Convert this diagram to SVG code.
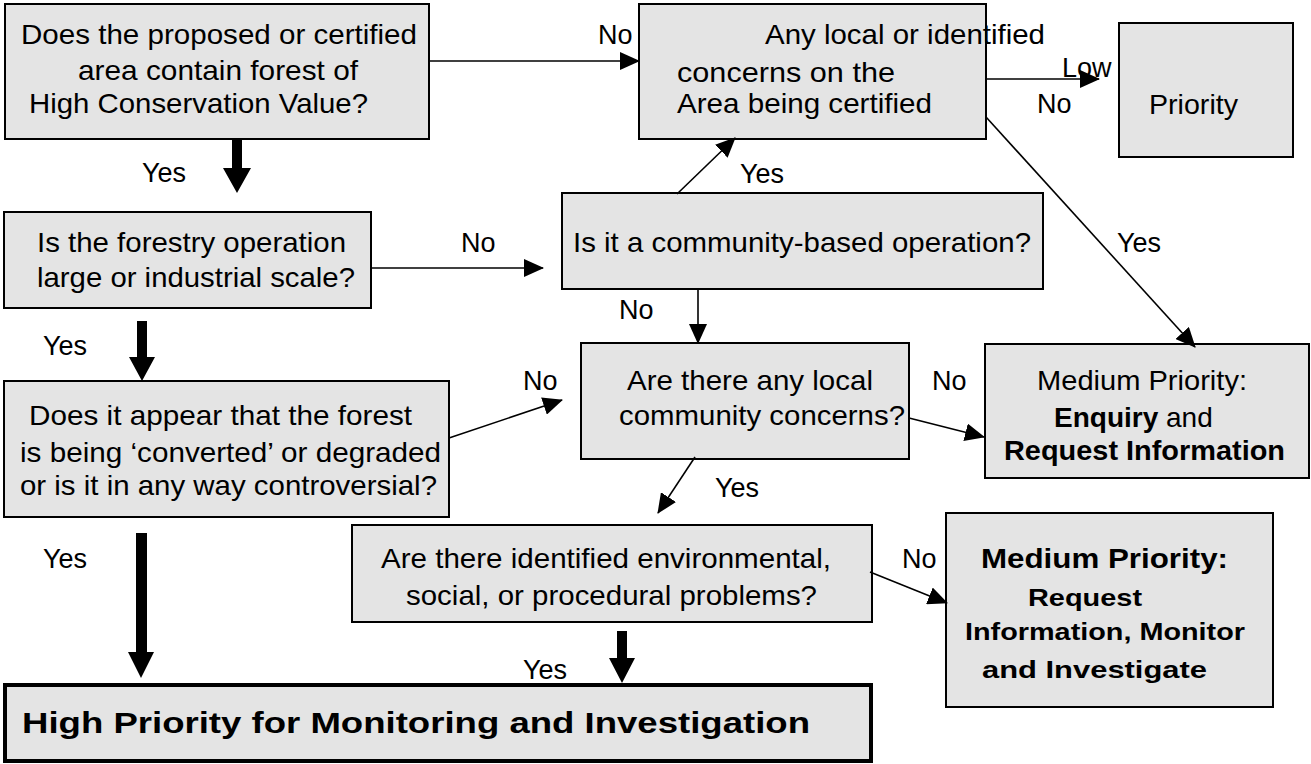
<svg xmlns="http://www.w3.org/2000/svg" width="1311" height="764" viewBox="0 0 1311 764">
<defs>
<style>
.box{fill:#e4e4e4;stroke:#000;stroke-width:2}
.hbox{fill:#e4e4e4;stroke:#000;stroke-width:4}
text{font-family:"Liberation Sans",Arial,Helvetica,sans-serif;font-size:28px;fill:#000}
.lbl{font-size:27px}
.b{font-weight:bold}
.s24{font-size:24px}
.ln{stroke:#000;stroke-width:1.6;fill:none}
.thick{fill:#000;stroke:none}
</style>
<marker id="ah" markerWidth="20" markerHeight="18" refX="19" refY="9" orient="auto" markerUnits="userSpaceOnUse">
<path d="M0,0 L20,9 L0,18 z" fill="#000"/>
</marker>
</defs>
<rect width="1311" height="764" fill="#fff"/>

<g id="n1">
<rect class="box" x="5" y="4" width="424" height="135"/>
<text x="21" y="44" textLength="396" lengthAdjust="spacingAndGlyphs">Does the proposed or certified</text>
<text x="78" y="80" textLength="280" lengthAdjust="spacingAndGlyphs">area contain forest of</text>
<text x="29" y="113" textLength="339" lengthAdjust="spacingAndGlyphs">High Conservation Value?</text>
</g>

<g id="n2">
<rect class="box" x="639" y="4" width="347" height="135"/>
<text x="765" y="44" textLength="280" lengthAdjust="spacingAndGlyphs">Any local or identified</text>
<text x="677" y="82" textLength="218" lengthAdjust="spacingAndGlyphs">concerns on the</text>
<text x="677" y="113" textLength="255" lengthAdjust="spacingAndGlyphs">Area being certified</text>
</g>

<g id="n3">
<rect class="box" x="1119" y="23" width="174" height="134"/>
<text x="1149" y="114" textLength="89" lengthAdjust="spacingAndGlyphs">Priority</text>
</g>

<g id="n4">
<rect class="box" x="562" y="193" width="481" height="96"/>
<text x="573" y="252" textLength="458" lengthAdjust="spacingAndGlyphs">Is it a community-based operation?</text>
</g>

<g id="n5">
<rect class="box" x="4" y="212" width="367" height="96"/>
<text x="37" y="252" textLength="309" lengthAdjust="spacingAndGlyphs">Is the forestry operation</text>
<text x="37" y="287" textLength="318" lengthAdjust="spacingAndGlyphs">large or industrial scale?</text>
</g>

<g id="n6">
<rect class="box" x="4" y="381" width="445" height="136"/>
<text x="29" y="425" textLength="383" lengthAdjust="spacingAndGlyphs">Does it appear that the forest</text>
<text x="20" y="462" textLength="421" lengthAdjust="spacingAndGlyphs">is being ‘converted’ or degraded</text>
<text x="20" y="495" textLength="417" lengthAdjust="spacingAndGlyphs">or is it in any way controversial?</text>
</g>

<g id="n7">
<rect class="box" x="581" y="343" width="328" height="116"/>
<text x="627" y="390" textLength="246" lengthAdjust="spacingAndGlyphs">Are there any local</text>
<text x="619" y="425" textLength="286" lengthAdjust="spacingAndGlyphs">community concerns?</text>
</g>

<g id="n8">
<rect class="box" x="985" y="344" width="324" height="134"/>
<text x="1037" y="390" textLength="210" lengthAdjust="spacingAndGlyphs">Medium Priority:</text>
<text x="1054" y="427"><tspan class="b">Enquiry</tspan> and</text>
<text class="b" x="1004" y="460" textLength="281" lengthAdjust="spacingAndGlyphs">Request Information</text>
</g>

<g id="n9">
<rect class="box" x="946" y="513" width="327" height="194"/>
<text class="b" x="981" y="568" textLength="247" lengthAdjust="spacingAndGlyphs">Medium Priority:</text>
<text class="b s24" x="1028" y="606" textLength="114" lengthAdjust="spacingAndGlyphs">Request</text>
<text class="b s24" x="965" y="640" textLength="280" lengthAdjust="spacingAndGlyphs">Information, Monitor</text>
<text class="b s24" x="982" y="678" textLength="225" lengthAdjust="spacingAndGlyphs">and Investigate</text>
</g>

<g id="n10">
<rect class="box" x="352" y="525" width="520" height="97"/>
<text x="381" y="568" textLength="450" lengthAdjust="spacingAndGlyphs">Are there identified environmental,</text>
<text x="406" y="605" textLength="411" lengthAdjust="spacingAndGlyphs">social, or procedural problems?</text>
</g>

<g id="n11">
<rect class="hbox" x="5" y="685" width="866" height="76"/>
<text class="b" x="22" y="733" style="font-size:30px" textLength="788" lengthAdjust="spacingAndGlyphs">High Priority for Monitoring and Investigation</text>
</g>

<g id="connectors">
<line class="ln" x1="429" y1="61" x2="639" y2="61" marker-end="url(#ah)"/>
<text class="lbl" x="598" y="44">No</text>

<line class="ln" x1="986" y1="79" x2="1099" y2="79" marker-end="url(#ah)"/>
<text class="lbl" x="1062" y="77">Low</text>
<text class="lbl" x="1037" y="113">No</text>

<line class="ln" x1="986" y1="117" x2="1195" y2="347" marker-end="url(#ah)"/>
<text class="lbl" x="1117" y="252">Yes</text>

<path class="thick" d="M232,139 H242 V168 H251 L237,193 L223,168 H232 Z"/>
<text class="lbl" x="142" y="182">Yes</text>

<line class="ln" x1="371" y1="268" x2="543" y2="268" marker-end="url(#ah)"/>
<text class="lbl" x="461" y="252">No</text>

<line class="ln" x1="677" y1="194" x2="735" y2="138" marker-end="url(#ah)"/>
<text class="lbl" x="740" y="183">Yes</text>

<line class="ln" x1="698" y1="289" x2="698" y2="343" marker-end="url(#ah)"/>
<text class="lbl" x="619" y="319">No</text>

<path class="thick" d="M137,321 H147 V357 H155 L142,381 L129,357 H137 Z"/>
<text class="lbl" x="43" y="355">Yes</text>

<line class="ln" x1="449" y1="438" x2="562" y2="400" marker-end="url(#ah)"/>
<text class="lbl" x="523" y="390">No</text>

<line class="ln" x1="909" y1="418" x2="984" y2="437" marker-end="url(#ah)"/>
<text class="lbl" x="932" y="390">No</text>

<line class="ln" x1="695" y1="457" x2="658" y2="513" marker-end="url(#ah)"/>
<text class="lbl" x="715" y="497">Yes</text>

<line class="ln" x1="870" y1="572" x2="947" y2="603" marker-end="url(#ah)"/>
<text class="lbl" x="902" y="568">No</text>

<path class="thick" d="M617,631 H627 V658 H635 L622,683 L609,658 H617 Z"/>
<text class="lbl" x="523" y="679">Yes</text>

<path class="thick" d="M136,533 H147 V652 H154 L141,678 L128,652 H136 Z"/>
<text class="lbl" x="43" y="568">Yes</text>
</g>
</svg>
